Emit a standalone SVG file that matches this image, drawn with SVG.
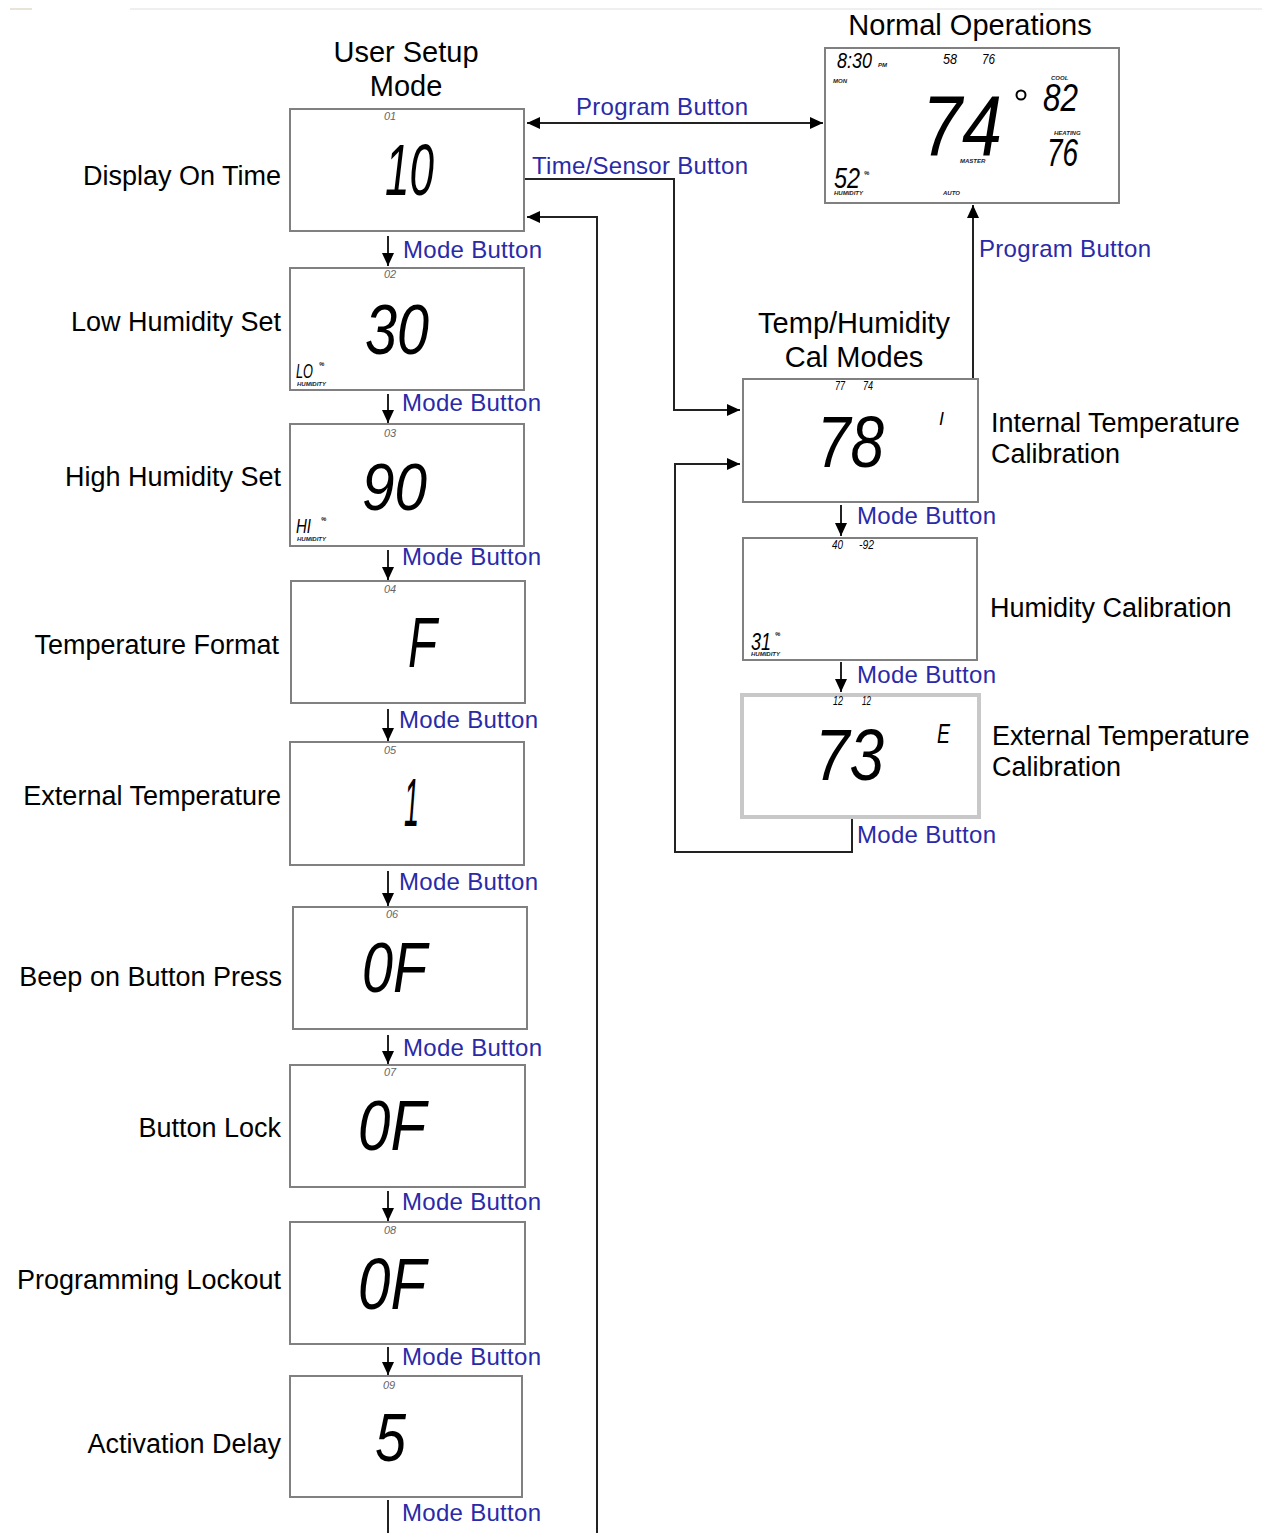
<svg xmlns="http://www.w3.org/2000/svg" width="1262" height="1533" viewBox="0 0 1262 1533">
<style>
.lbl{font-family:"Liberation Sans",Arial,sans-serif;font-size:27px;fill:#000}
.hdr{font-family:"Liberation Sans",Arial,sans-serif;font-size:29px;fill:#000;text-anchor:middle}
.blue{font-family:"Liberation Sans",Arial,sans-serif;font-size:24px;fill:#2a2aa8}
.box{fill:#fff;stroke:#808080;stroke-width:2}
.seg{font-family:"Liberation Sans","DejaVu Sans",sans-serif;font-style:italic;fill:#000}
.tiny{font-family:"Liberation Sans",Arial,sans-serif;font-size:6px;font-weight:bold;font-style:italic;fill:#222}
.idx{font-family:"Liberation Sans",Arial,sans-serif;font-size:11px;font-style:italic;fill:#666;text-anchor:middle}
.ln{fill:none;stroke:#222;stroke-width:2}
</style>
<defs>
<marker id="ah" viewBox="0 0 13 12" refX="13" refY="6" markerWidth="13" markerHeight="12" orient="auto-start-reverse" markerUnits="userSpaceOnUse"><path d="M0,0 L13,6 L0,12 z" fill="#000"/></marker>
</defs>
<rect width="1262" height="1533" fill="#fff"/>
<line x1="130" y1="9" x2="1262" y2="9" stroke="#efefef" stroke-width="2"/>
<line x1="10" y1="9" x2="32" y2="9" stroke="#e8e4d8" stroke-width="2"/>

<g id="connectors">
<line class="ln" x1="527" y1="123" x2="823" y2="123" marker-start="url(#ah)" marker-end="url(#ah)"/>
<polyline class="ln" points="524,179 674,179 674,410 740,410" marker-end="url(#ah)"/>
<polyline class="ln" points="597,1533 597,217 527,217" marker-end="url(#ah)"/>
<polyline class="ln" points="852,818 852,852 675,852 675,464 740,464" marker-end="url(#ah)"/>
<line class="ln" x1="973" y1="379" x2="973" y2="205" marker-end="url(#ah)"/>
<line class="ln" x1="388" y1="236" x2="388" y2="266" marker-end="url(#ah)"/>
<line class="ln" x1="388" y1="394" x2="388" y2="423" marker-end="url(#ah)"/>
<line class="ln" x1="388" y1="550" x2="388" y2="580" marker-end="url(#ah)"/>
<line class="ln" x1="388" y1="709" x2="388" y2="741" marker-end="url(#ah)"/>
<line class="ln" x1="388" y1="871" x2="388" y2="906" marker-end="url(#ah)"/>
<line class="ln" x1="388" y1="1035" x2="388" y2="1064" marker-end="url(#ah)"/>
<line class="ln" x1="388" y1="1191" x2="388" y2="1221" marker-end="url(#ah)"/>
<line class="ln" x1="388" y1="1347" x2="388" y2="1375" marker-end="url(#ah)"/>
<line class="ln" x1="388" y1="1500" x2="388" y2="1533"/>
<line class="ln" x1="841" y1="505" x2="841" y2="536" marker-end="url(#ah)"/>
<line class="ln" x1="841" y1="662" x2="841" y2="692" marker-end="url(#ah)"/>
<text class="blue" x="576" y="115" textLength="172">Program Button</text>
<text class="blue" x="532" y="174" textLength="216">Time/Sensor Button</text>
<text class="blue" x="979" y="257" textLength="172">Program Button</text>
<text class="blue" x="403" y="258" textLength="139">Mode Button</text>
<text class="blue" x="402" y="411" textLength="139">Mode Button</text>
<text class="blue" x="402" y="565" textLength="139">Mode Button</text>
<text class="blue" x="399" y="728" textLength="139">Mode Button</text>
<text class="blue" x="399" y="890" textLength="139">Mode Button</text>
<text class="blue" x="403" y="1056" textLength="139">Mode Button</text>
<text class="blue" x="402" y="1210" textLength="139">Mode Button</text>
<text class="blue" x="402" y="1365" textLength="139">Mode Button</text>
<text class="blue" x="402" y="1521" textLength="139">Mode Button</text>
<text class="blue" x="857" y="524" textLength="139">Mode Button</text>
<text class="blue" x="857" y="683" textLength="139">Mode Button</text>
<text class="blue" x="857" y="843" textLength="139">Mode Button</text>
</g>

<g id="headers">
<text class="hdr" x="406" y="62">User Setup</text>
<text class="hdr" x="406" y="96">Mode</text>
<text class="hdr" x="970" y="35">Normal Operations</text>
<text class="hdr" x="854" y="333">Temp/Humidity</text>
<text class="hdr" x="854" y="367">Cal Modes</text>
</g>

<g id="display-on-time">
<text class="lbl" x="281" y="185" text-anchor="end">Display On Time</text>
<rect class="box" x="290" y="109" width="234" height="122"/>
<text class="idx" x="390" y="120">01</text>
<text class="seg" x="385" y="195" font-size="72" textLength="49" lengthAdjust="spacingAndGlyphs">10</text>
</g>

<g id="low-humidity">
<text class="lbl" x="281" y="331" text-anchor="end">Low Humidity Set</text>
<rect class="box" x="290" y="268" width="234" height="122"/>
<text class="idx" x="390" y="278">02</text>
<text class="seg" x="365" y="354" font-size="71" textLength="64" lengthAdjust="spacingAndGlyphs">30</text>
<text class="seg" x="296" y="378" font-size="20" textLength="17" lengthAdjust="spacingAndGlyphs">LO</text>
<text class="tiny" x="319" y="366">%</text>
<text class="tiny" x="297" y="386" font-size="4">HUMIDITY</text>
</g>

<g id="high-humidity">
<text class="lbl" x="281" y="486" text-anchor="end">High Humidity Set</text>
<rect class="box" x="290" y="424" width="234" height="122"/>
<text class="idx" x="390" y="437">03</text>
<text class="seg" x="362" y="510" font-size="67" textLength="65" lengthAdjust="spacingAndGlyphs">90</text>
<text class="seg" x="296" y="533" font-size="20" textLength="15" lengthAdjust="spacingAndGlyphs">HI</text>
<text class="tiny" x="321" y="521">%</text>
<text class="tiny" x="297" y="541" font-size="4">HUMIDITY</text>
</g>

<g id="temperature-format">
<text class="lbl" x="279" y="654" text-anchor="end">Temperature Format</text>
<rect class="box" x="291" y="581" width="234" height="122"/>
<text class="idx" x="390" y="593">04</text>
<text class="seg" x="408" y="667" font-size="70" textLength="29" lengthAdjust="spacingAndGlyphs">F</text>
</g>

<g id="external-temperature">
<text class="lbl" x="281" y="805" text-anchor="end">External Temperature</text>
<rect class="box" x="290" y="742" width="234" height="123"/>
<text class="idx" x="390" y="754">05</text>
<text class="seg" x="404" y="826" font-size="68" textLength="15" lengthAdjust="spacingAndGlyphs">1</text>
</g>

<g id="beep">
<text class="lbl" x="282" y="986" text-anchor="end">Beep on Button Press</text>
<rect class="box" x="293" y="907" width="234" height="122"/>
<text class="idx" x="392" y="918">06</text>
<text class="seg" x="362" y="992" font-size="70" textLength="65" lengthAdjust="spacingAndGlyphs">0F</text>
</g>

<g id="button-lock">
<text class="lbl" x="281" y="1137" text-anchor="end">Button Lock</text>
<rect class="box" x="290" y="1065" width="235" height="122"/>
<text class="idx" x="390" y="1076">07</text>
<text class="seg" x="358" y="1150" font-size="70" textLength="68" lengthAdjust="spacingAndGlyphs">0F</text>
</g>

<g id="programming-lockout">
<text class="lbl" x="281" y="1289" text-anchor="end">Programming Lockout</text>
<rect class="box" x="290" y="1222" width="235" height="122"/>
<text class="idx" x="390" y="1234">08</text>
<text class="seg" x="358" y="1309" font-size="72" textLength="68" lengthAdjust="spacingAndGlyphs">0F</text>
</g>

<g id="activation-delay">
<text class="lbl" x="281" y="1453" text-anchor="end">Activation Delay</text>
<rect class="box" x="290" y="1376" width="232" height="121"/>
<text class="idx" x="389" y="1389">09</text>
<text class="seg" x="375" y="1461" font-size="68" textLength="31" lengthAdjust="spacingAndGlyphs">5</text>
</g>

<g id="normal-operations">
<rect class="box" x="825" y="48" width="294" height="155"/>
<text class="seg" x="837" y="68" font-size="22" textLength="35" lengthAdjust="spacingAndGlyphs">8:30</text>
<text class="tiny" x="878" y="67">PM</text>
<text class="tiny" x="833" y="83">MON</text>
<text class="seg" x="943" y="64" font-size="15" textLength="14" lengthAdjust="spacingAndGlyphs" fill="#333">58</text>
<text class="seg" x="982" y="64" font-size="15" textLength="13" lengthAdjust="spacingAndGlyphs" fill="#333">76</text>
<text class="seg" x="922" y="155" font-size="86" textLength="80" lengthAdjust="spacingAndGlyphs">74</text>
<circle cx="1021" cy="95" r="4.5" fill="none" stroke="#000" stroke-width="2"/>
<text class="tiny" x="1051" y="80">COOL</text>
<text class="seg" x="1043" y="111" font-size="38" textLength="35" lengthAdjust="spacingAndGlyphs">82</text>
<text class="tiny" x="1054" y="135">HEATING</text>
<text class="seg" x="1047" y="166" font-size="39" textLength="31" lengthAdjust="spacingAndGlyphs">76</text>
<text class="tiny" x="960" y="163">MASTER</text>
<text class="seg" x="834" y="188" font-size="29" textLength="26" lengthAdjust="spacingAndGlyphs">52</text>
<text class="tiny" x="864" y="175" font-size="8">%</text>
<text class="tiny" x="834" y="195" font-size="5">HUMIDITY</text>
<text class="tiny" x="943" y="195">AUTO</text>
</g>

<g id="internal-temperature-calibration">
<rect class="box" x="743" y="379" width="235" height="123"/>
<text class="seg" x="835" y="390" font-size="12" textLength="10" lengthAdjust="spacingAndGlyphs" fill="#444">77</text>
<text class="seg" x="863" y="390" font-size="12" textLength="10" lengthAdjust="spacingAndGlyphs" fill="#444">74</text>
<text class="seg" x="817" y="467" font-size="72" textLength="67" lengthAdjust="spacingAndGlyphs">78</text>
<text class="seg" x="939" y="425" font-size="18" textLength="5" lengthAdjust="spacingAndGlyphs">I</text>
<text class="lbl" x="991" y="432">Internal Temperature</text>
<text class="lbl" x="991" y="463">Calibration</text>
</g>

<g id="humidity-calibration">
<rect class="box" x="743" y="538" width="234" height="122"/>
<text class="seg" x="832" y="549" font-size="12" textLength="11" lengthAdjust="spacingAndGlyphs" fill="#444">40</text>
<text class="seg" x="859" y="549" font-size="12" textLength="15" lengthAdjust="spacingAndGlyphs" fill="#444">-92</text>
<text class="seg" x="751" y="650" font-size="24" textLength="20" lengthAdjust="spacingAndGlyphs">31</text>
<text class="tiny" x="775" y="636">%</text>
<text class="tiny" x="751" y="656" font-size="4">HUMIDITY</text>
<text class="lbl" x="990" y="617">Humidity Calibration</text>
</g>

<g id="external-temperature-calibration">
<rect x="742" y="695" width="237" height="122" fill="#fff" stroke="#c8c8c8" stroke-width="4"/>
<text class="seg" x="833" y="705" font-size="12" textLength="10" lengthAdjust="spacingAndGlyphs" fill="#444">12</text>
<text class="seg" x="862" y="705" font-size="12" textLength="9" lengthAdjust="spacingAndGlyphs" fill="#444">12</text>
<text class="seg" x="815" y="780" font-size="72" textLength="69" lengthAdjust="spacingAndGlyphs">73</text>
<text class="seg" x="937" y="743" font-size="28" textLength="13" lengthAdjust="spacingAndGlyphs">E</text>
<text class="lbl" x="992" y="745">External Temperature</text>
<text class="lbl" x="992" y="776">Calibration</text>
</g>
</svg>
